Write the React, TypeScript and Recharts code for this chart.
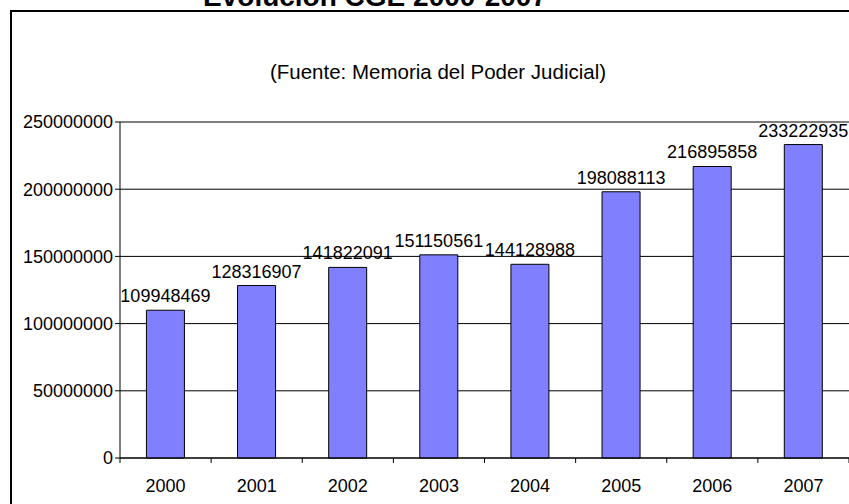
import React from 'react';
import { BarChart, Bar, XAxis, YAxis, CartesianGrid, LabelList } from 'recharts';

const years = ['2000', '2001', '2002', '2003', '2004', '2005', '2006', '2007'];
const cgeValues = [109948469, 128316907, 141822091, 151150561, 144128988, 198088113, 216895858, 233222935];
const yTicks = [0, 50000000, 100000000, 150000000, 200000000, 250000000];

const data = years.map((year, i) => ({ year, cge: cgeValues[i] }));

const FONT = '"Liberation Sans", Arial, sans-serif';

// year label at band centre, tick mark on the band boundaries
const YearTick = (props: any) => {
  const { x, y, payload, index, width, visibleTicksCount } = props;
  const band = (width ?? 729) / (visibleTicksCount ?? 8);
  const axisY = y - 21;
  return (
    <g>
      <line x1={x - band / 2} x2={x - band / 2} y1={axisY} y2={axisY + 5} stroke="#000" />
      {index === visibleTicksCount - 1 && (
        <line x1={x + band / 2} x2={x + band / 2} y1={axisY} y2={axisY + 5} stroke="#000" />
      )}
      <text x={x} y={y + 13} textAnchor="middle" fontSize={18} fontFamily={FONT} fill="#000">
        {payload.value}
      </text>
    </g>
  );
};

export default function App() {
  return (
    <div style={{ position: 'absolute', left: 0, top: 0, width: 849, height: 504, overflow: 'hidden', background: '#fff', fontFamily: FONT }}>
      <div
        style={{
          position: 'absolute',
          left: 10,
          top: 10,
          width: 900,
          height: 600,
          border: '2px solid #000',
          boxSizing: 'border-box',
        }}
      />
      <div
        style={{
          position: 'absolute',
          left: 0,
          width: 750,
          top: -23,
          textAlign: 'center',
          fontSize: 28,
          fontWeight: 'bold',
          lineHeight: '40px',
        }}
      >
        Evolución CGE 2000-2007
      </div>
      <div
        style={{
          position: 'absolute',
          left: 0,
          width: 876,
          top: 57,
          textAlign: 'center',
          fontSize: 20.5,
          lineHeight: '30px',
        }}
      >
        (Fuente: Memoria del Poder Judicial)
      </div>
      <div style={{ position: 'absolute', left: 0, top: 0 }}>
        <BarChart
          width={849}
          height={504}
          data={data}
          margin={{ top: 122, right: 0, bottom: 16, left: 0 }}
          barCategoryGap="29%"
        >
          <CartesianGrid vertical={false} stroke="#000" />
          <XAxis
            dataKey="year"
            height={30}
            axisLine={{ stroke: '#000' }}
            tickLine={false}
            tickSize={0}
            tickMargin={21}
            tick={<YearTick />}
            interval={0}
          />
          <YAxis
            width={120}
            domain={[0, 250000000]}
            ticks={yTicks}
            interval={0}
            axisLine={{ stroke: '#000' }}
            tickLine={{ stroke: '#000' }}
            tickSize={5}
            tickMargin={2}
            tick={{ fill: '#000', fontSize: 18, fontFamily: FONT }}
          />
          <Bar dataKey="cge" fill="#8080FF" stroke="#000" strokeWidth={1} isAnimationActive={false}>
            <LabelList dataKey="cge" position="top" offset={8} fill="#000" fontSize={18} fontFamily={FONT} />
          </Bar>
        </BarChart>
      </div>
    </div>
  );
}
